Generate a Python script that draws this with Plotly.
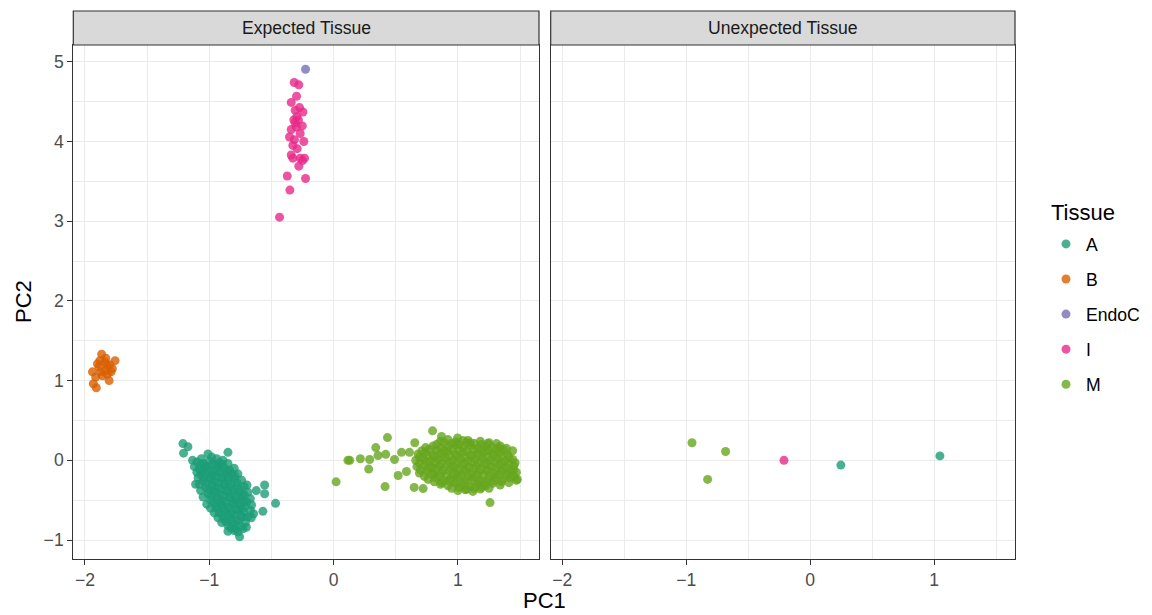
import plotly.graph_objects as go

# ---------------- data ----------------
tissues = ["A", "B", "EndoC", "I", "M"]
tissue_colors = ["#1B9E77", "#D95F02", "#7570B3", "#E7298A", "#66A61E"]
panel_titles = ["Expected Tissue", "Unexpected Tissue"]
x_label = "PC1"
y_label = "PC2"
legend_title = "Tissue"

# Expected Tissue panel: (PC1, PC2)
a_expected = [
    (-1.212, 0.21), (-1.172, 0.17), (-1.207, 0.09), (-1.011, 0.08), (-0.850, 0.10),
    (-1.064, 0.02), (-1.135, 0.00), (-0.837, -0.12), (-1.110, -0.30), (-0.697, -0.31),
    (-0.555, -0.31), (-0.622, -0.38), (-0.555, -0.42), (-0.467, -0.54), (-0.569, -0.64),
    (-0.644, -0.67), (-0.662, -0.72), (-0.850, -0.89), (-0.756, -0.96), (-0.702, -0.84),
    (-1.10, -0.02), (-1.05, -0.04), (-1.00, -0.01), (-0.96, -0.05), (-0.92, -0.03),
    (-1.08, -0.11), (-1.03, -0.09), (-0.98, -0.12), (-0.93, -0.08), (-0.88, -0.10),
    (-1.07, -0.18), (-1.02, -0.16), (-0.97, -0.19), (-0.92, -0.15), (-0.87, -0.18), (-0.82, -0.17),
    (-1.05, -0.26), (-1.00, -0.24), (-0.95, -0.27), (-0.90, -0.23), (-0.85, -0.26), (-0.80, -0.24),
    (-1.03, -0.34), (-0.98, -0.32), (-0.93, -0.35), (-0.88, -0.31), (-0.83, -0.34), (-0.78, -0.33),
    (-1.01, -0.42), (-0.96, -0.40), (-0.91, -0.43), (-0.86, -0.39), (-0.81, -0.42), (-0.76, -0.40), (-0.72, -0.43),
    (-0.99, -0.50), (-0.94, -0.48), (-0.89, -0.51), (-0.84, -0.47), (-0.79, -0.50), (-0.74, -0.49), (-0.70, -0.52),
    (-0.95, -0.58), (-0.90, -0.56), (-0.85, -0.59), (-0.80, -0.55), (-0.75, -0.58), (-0.71, -0.57),
    (-0.92, -0.66), (-0.87, -0.64), (-0.82, -0.67), (-0.77, -0.63), (-0.72, -0.66),
    (-0.88, -0.74), (-0.83, -0.72), (-0.78, -0.75), (-0.73, -0.71),
    (-0.85, -0.82), (-0.80, -0.80), (-0.75, -0.83),
    (-0.80, -0.88), (-0.77, -0.90),
    (-1.075, -0.06), (-1.025, -0.07), (-0.975, -0.05), (-0.925, -0.07), (-0.895, -0.05),
    (-1.055, -0.14), (-1.005, -0.13), (-0.955, -0.15), (-0.905, -0.13), (-0.855, -0.14),
    (-1.045, -0.21), (-0.995, -0.22), (-0.945, -0.20), (-0.895, -0.22), (-0.845, -0.21), (-0.795, -0.20),
    (-1.025, -0.29), (-0.975, -0.30), (-0.925, -0.28), (-0.875, -0.30), (-0.825, -0.29), (-0.775, -0.28),
    (-1.005, -0.37), (-0.955, -0.38), (-0.905, -0.36), (-0.855, -0.38), (-0.805, -0.37), (-0.755, -0.36),
    (-0.985, -0.45), (-0.935, -0.46), (-0.885, -0.44), (-0.835, -0.46), (-0.785, -0.45), (-0.735, -0.44),
    (-0.965, -0.53), (-0.915, -0.54), (-0.865, -0.52), (-0.815, -0.54), (-0.765, -0.53), (-0.720, -0.52),
    (-0.935, -0.61), (-0.885, -0.62), (-0.835, -0.60), (-0.785, -0.62), (-0.735, -0.61),
    (-0.895, -0.69), (-0.845, -0.70), (-0.795, -0.68), (-0.745, -0.70),
    (-0.865, -0.77), (-0.815, -0.78), (-0.765, -0.76),
    (-0.825, -0.85), (-0.785, -0.86),
    (-1.08, -0.30), (-1.07, -0.38), (-1.05, -0.46), (-1.02, -0.55), (-0.99, -0.60),
    (-0.96, -0.66), (-0.93, -0.72), (-0.90, -0.78),
    (-0.74, -0.25), (-0.72, -0.33), (-0.69, -0.40), (-0.67, -0.48), (-0.66, -0.56),
    (-0.67, -0.63), (-0.69, -0.71), (-0.71, -0.78), (-0.73, -0.86),
    (-0.98, 0.04), (-0.94, 0.02), (-0.89, 0.00), (-0.85, -0.04), (-0.80, -0.10), (-0.77, -0.17),
    (-1.12, -0.08), (-1.10, -0.15), (-1.09, -0.22),
]
b_expected = [
    (-1.866, 1.33), (-1.833, 1.28), (-1.758, 1.25), (-1.900, 1.21), (-1.820, 1.19),
    (-1.940, 1.11), (-1.873, 1.11), (-1.790, 1.11), (-1.914, 1.045), (-1.806, 1.00),
    (-1.933, 0.96), (-1.909, 0.91), (-1.840, 1.23), (-1.887, 1.17), (-1.833, 1.13),
    (-1.780, 1.15), (-1.860, 1.06), (-1.820, 1.08), (-1.880, 1.25), (-1.800, 1.20),
]
endoc_expected = [(-0.226, 4.906)]
i_expected = [
    (-0.317, 4.74), (-0.280, 4.71), (-0.298, 4.567), (-0.341, 4.49), (-0.274, 4.425),
    (-0.309, 4.39), (-0.247, 4.37), (-0.320, 4.27), (-0.283, 4.27), (-0.296, 4.31),
    (-0.252, 4.195), (-0.341, 4.15), (-0.300, 4.18), (-0.269, 4.10), (-0.355, 4.056),
    (-0.315, 4.02), (-0.240, 4.00), (-0.328, 3.95), (-0.293, 3.91), (-0.341, 3.83),
    (-0.328, 3.79), (-0.269, 3.79), (-0.234, 3.79), (-0.250, 3.76), (-0.280, 3.69),
    (-0.373, 3.567), (-0.226, 3.535), (-0.352, 3.39), (-0.435, 3.05), (-0.310, 4.23),
]
m_expected = [
    (0.020, -0.27), (0.115, 0.00), (0.130, 0.00), (0.215, 0.02), (0.290, 0.01),
    (0.282, -0.11), (0.339, 0.16), (0.357, 0.06), (0.433, 0.285), (0.419, 0.075),
    (0.414, -0.33), (0.490, 0.01), (0.519, -0.19), (0.546, 0.10), (0.586, -0.14),
    (0.610, 0.10), (0.653, 0.22), (0.648, -0.34), (0.720, -0.355), (0.796, 0.37),
    (0.868, 0.30), (0.997, 0.28), (1.080, 0.25), (1.335, 0.15), (1.258, -0.53),
    (1.440, 0.12), (1.478, -0.24), (1.447, -0.125),
    (0.86, 0.24), (0.92, 0.26), (0.98, 0.23), (1.04, 0.25), (1.10, 0.22), (1.18, 0.24), (1.24, 0.21),
    (0.74, 0.16), (0.80, 0.18), (0.86, 0.15), (0.92, 0.17), (0.98, 0.19), (1.04, 0.16),
    (1.10, 0.18), (1.16, 0.15), (1.22, 0.17), (1.28, 0.16), (1.34, 0.18), (1.39, 0.15),
    (0.68, 0.08), (0.74, 0.10), (0.80, 0.07), (0.86, 0.09), (0.92, 0.11), (0.98, 0.08),
    (1.04, 0.10), (1.10, 0.07), (1.16, 0.09), (1.22, 0.11), (1.28, 0.08), (1.34, 0.10), (1.40, 0.07),
    (0.66, 0.00), (0.72, 0.02), (0.78, -0.01), (0.84, 0.01), (0.90, 0.03), (0.96, 0.00), (1.02, 0.02),
    (1.08, -0.01), (1.14, 0.01), (1.20, 0.03), (1.26, 0.00), (1.32, 0.02), (1.38, -0.01), (1.44, 0.01),
    (0.67, -0.08), (0.73, -0.06), (0.79, -0.09), (0.85, -0.07), (0.91, -0.05), (0.97, -0.08), (1.03, -0.06),
    (1.09, -0.09), (1.15, -0.07), (1.21, -0.05), (1.27, -0.08), (1.33, -0.06), (1.39, -0.09), (1.45, -0.07),
    (0.69, -0.16), (0.75, -0.14), (0.81, -0.17), (0.87, -0.15), (0.93, -0.13), (0.99, -0.16), (1.05, -0.14),
    (1.11, -0.17), (1.17, -0.15), (1.23, -0.13), (1.29, -0.16), (1.35, -0.14), (1.41, -0.17), (1.47, -0.15),
    (0.76, -0.24), (0.82, -0.22), (0.88, -0.25), (0.94, -0.23), (1.00, -0.21), (1.06, -0.24), (1.12, -0.22),
    (1.18, -0.25), (1.24, -0.23), (1.30, -0.21), (1.36, -0.24), (1.42, -0.22), (1.47, -0.25),
    (0.86, -0.30), (0.92, -0.32), (0.98, -0.29), (1.04, -0.31), (1.10, -0.33), (1.16, -0.30),
    (1.22, -0.32), (1.28, -0.29), (1.34, -0.31),
    (1.00, -0.38), (1.06, -0.37), (1.12, -0.39), (1.18, -0.36),
    (0.83, 0.20), (0.89, 0.22), (0.95, 0.21), (1.01, 0.20), (1.07, 0.22), (1.13, 0.21), (1.19, 0.20),
    (1.25, 0.22), (1.31, 0.21),
    (0.71, 0.12), (0.77, 0.14), (0.83, 0.13), (0.89, 0.12), (0.95, 0.14), (1.01, 0.13), (1.07, 0.12),
    (1.13, 0.14), (1.19, 0.13), (1.25, 0.12), (1.31, 0.14), (1.37, 0.13),
    (0.69, 0.04), (0.75, 0.06), (0.81, 0.05), (0.87, 0.04), (0.93, 0.06), (0.99, 0.05), (1.05, 0.04),
    (1.11, 0.06), (1.17, 0.05), (1.23, 0.04), (1.29, 0.06), (1.35, 0.05), (1.41, 0.04),
    (0.69, -0.04), (0.75, -0.02), (0.81, -0.03), (0.87, -0.04), (0.93, -0.02), (0.99, -0.03), (1.05, -0.04),
    (1.11, -0.02), (1.17, -0.03), (1.23, -0.04), (1.29, -0.02), (1.35, -0.03), (1.41, -0.04), (1.46, -0.03),
    (0.70, -0.12), (0.76, -0.10), (0.82, -0.11), (0.88, -0.12), (0.94, -0.10), (1.00, -0.11), (1.06, -0.12),
    (1.12, -0.10), (1.18, -0.11), (1.24, -0.12), (1.30, -0.10), (1.36, -0.11), (1.42, -0.12),
    (0.73, -0.20), (0.79, -0.18), (0.85, -0.19), (0.91, -0.20), (0.97, -0.18), (1.03, -0.19), (1.09, -0.20),
    (1.15, -0.18), (1.21, -0.19), (1.27, -0.20), (1.33, -0.18), (1.39, -0.19), (1.45, -0.20),
    (0.81, -0.27), (0.87, -0.28), (0.93, -0.26), (0.99, -0.27), (1.05, -0.28), (1.11, -0.26),
    (1.17, -0.27), (1.23, -0.28), (1.29, -0.26), (1.35, -0.27), (1.41, -0.28),
    (0.95, -0.35), (1.01, -0.34), (1.07, -0.36), (1.13, -0.35), (1.19, -0.34), (1.25, -0.35),
]

# Unexpected Tissue panel: (PC1, PC2)
a_unexpected = [(0.247, -0.06), (1.046, 0.055)]
b_unexpected = []
endoc_unexpected = []
i_unexpected = [(-0.212, 0.00)]
m_unexpected = [(-0.954, 0.22), (-0.683, 0.11), (-0.828, -0.24)]

expected_sets = [a_expected, b_expected, endoc_expected, i_expected, m_expected]
unexpected_sets = [a_unexpected, b_unexpected, endoc_unexpected, i_unexpected, m_unexpected]

# ---------------- styling ----------------
W, H = 1152, 615
FONT = "Liberation Sans, Arial, sans-serif"
left_px = (73.3, 539.0)
right_px = (550.7, 1015.0)
top_px, bottom_px = 45.0, 559.0
strip_top_px = 11.0
x_range = [-2.094, 1.652]
y_range = [-1.238, 5.21]
SMALL = 17.6
LARGE = 22

fig = go.Figure()

for name, color, exp_pts, unexp_pts in zip(tissues, tissue_colors, expected_sets, unexpected_sets):
    fig.add_trace(go.Scatter(
        x=[p[0] for p in exp_pts], y=[p[1] for p in exp_pts],
        mode="markers", name=name, legendgroup=name, showlegend=True,
        marker=dict(color=color, size=9, opacity=0.8, line=dict(width=0)),
        xaxis="x", yaxis="y", hoverinfo="skip",
    ))
    fig.add_trace(go.Scatter(
        x=[p[0] for p in unexp_pts], y=[p[1] for p in unexp_pts],
        mode="markers", name=name, legendgroup=name, showlegend=False,
        marker=dict(color=color, size=9, opacity=0.8, line=dict(width=0)),
        xaxis="x2", yaxis="y2", hoverinfo="skip",
    ))

axis_common = dict(
    ticks="outside", ticklen=5, tickwidth=1.1, tickcolor="#333333",
    showline=True, mirror=True, linecolor="#333333", linewidth=1.2,
    showgrid=True, gridcolor="#EBEBEB", gridwidth=1.4, zeroline=False,
    tickfont=dict(family=FONT, size=SMALL, color="#4D4D4D"),
    tickmode="linear", tick0=0, dtick=1,
    minor=dict(tickmode="linear", tick0=0, dtick=0.5, showgrid=True,
               gridcolor="#EBEBEB", gridwidth=0.7, ticks=""),
)

ydom = [1 - bottom_px / H, 1 - top_px / H]
fig.update_layout(
    width=W, height=H,
    margin=dict(l=0, r=0, t=0, b=0),
    paper_bgcolor="white", plot_bgcolor="white",
    font=dict(family=FONT, color="#000000"),
    xaxis={**axis_common, "range": x_range, "domain": [left_px[0] / W, left_px[1] / W], "anchor": "y"},
    xaxis2={**axis_common, "range": x_range, "domain": [right_px[0] / W, right_px[1] / W], "anchor": "y2"},
    yaxis={**axis_common, "range": y_range, "domain": ydom, "anchor": "x"},
    yaxis2={**axis_common, "range": y_range, "domain": ydom, "anchor": "x2",
            "showticklabels": False, "ticks": ""},
    legend=dict(
        font=dict(family=FONT, size=SMALL, color="#000000"),
        x=1046 / W, xanchor="left", y=1 - 226 / H, yanchor="top",
        tracegroupgap=9.2, bgcolor="rgba(0,0,0,0)", itemclick=False,
    ),
    showlegend=True,
)

# legend title
fig.add_annotation(xref="paper", yref="paper", x=1049 / W, y=1 - 212 / H,
                   text=legend_title, showarrow=False,
                   font=dict(family=FONT, size=LARGE, color="#000000"),
                   xanchor="left", yanchor="middle")

# facet strips
for (x0, x1), title in zip([left_px, right_px], panel_titles):
    fig.add_shape(type="rect", xref="paper", yref="paper",
                  x0=x0 / W, x1=x1 / W, y0=1 - top_px / H, y1=1 - strip_top_px / H,
                  fillcolor="#D9D9D9", line=dict(color="#333333", width=1.2), layer="above")
    fig.add_annotation(xref="paper", yref="paper", x=(x0 + x1) / 2 / W,
                       y=1 - (strip_top_px + top_px) / 2 / H, text=title, showarrow=False,
                       font=dict(family=FONT, size=SMALL, color="#1A1A1A"),
                       xanchor="center", yanchor="middle")

# axis titles
fig.add_annotation(xref="paper", yref="paper", x=(left_px[0] + right_px[1]) / 2 / W,
                   y=1 - 600 / H, text=x_label, showarrow=False,
                   font=dict(family=FONT, size=LARGE, color="#000000"),
                   xanchor="center", yanchor="middle")
fig.add_annotation(xref="paper", yref="paper", x=24 / W,
                   y=1 - (top_px + bottom_px) / 2 / H, text=y_label, showarrow=False,
                   textangle=-90, font=dict(family=FONT, size=LARGE, color="#000000"),
                   xanchor="center", yanchor="middle")

fig.write_html("out.html")
